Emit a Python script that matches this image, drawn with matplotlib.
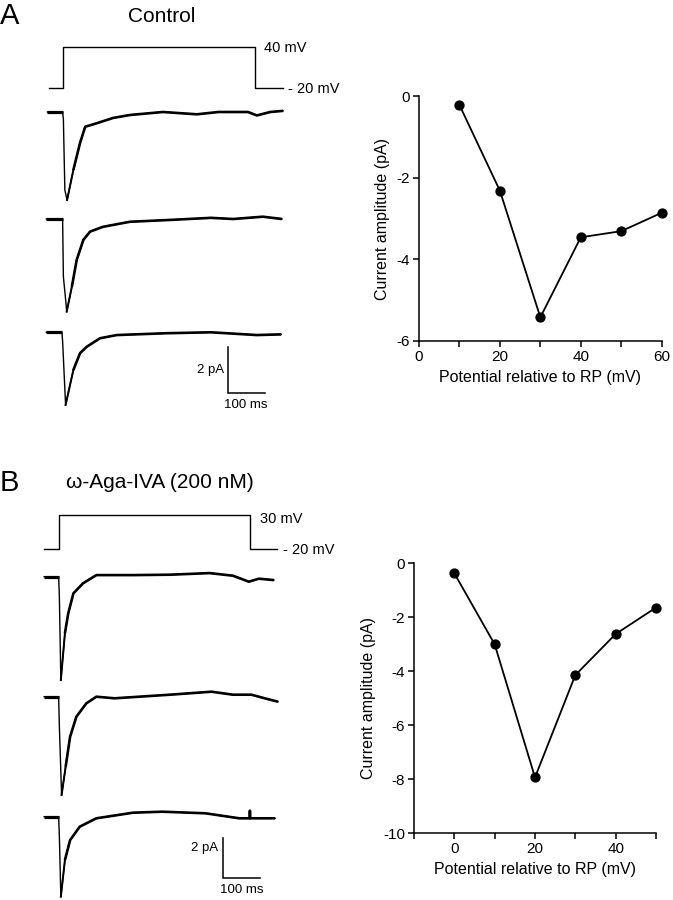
import matplotlib
matplotlib.use('Agg')
import matplotlib.pyplot as plt

plt.rcParams['font.family'] = ['Liberation Sans', 'DejaVu Sans']
plt.rcParams['axes.unicode_minus'] = False

# I-V data (mV relative to RP, pA)
iv_a_mv = [10, 20, 30, 40, 50, 60]
iv_a_pa = [-0.22, -2.32, -5.42, -3.46, -3.31, -2.86]
iv_b_mv = [0, 10, 20, 30, 40, 50]
iv_b_pa = [-0.37, -3.0, -7.93, -4.14, -2.62, -1.64]

# voltage command (ms, mV)
step_a_t = [-38, 0, 0, 520, 520, 595]
step_a_mv = [-20, -20, 40, 40, -20, -20]
step_b_t = [-40, 0, 0, 517, 517, 590]
step_b_mv = [-20, -20, 30, 30, -20, -20]

# current traces, control (ms, pA from baseline)
a1_t = [-42, -1, 1, 5, 11, 28, 46, 60, 91, 135, 181, 270, 362, 420, 500, 524, 560, 595]
a1_i = [0, 0, -0.3, -3.39, -3.83, -2.52, -1.35, -0.64, -0.49, -0.26, -0.13, 0.0, -0.1, 0.0, 0.0, -0.15, 0.0, 0.05]
a2_t = [-45, -1, 1, 8, 10, 24, 37, 55, 73, 108, 181, 290, 400, 460, 540, 592]
a2_i = [0, 0, -2.5, -3.65, -4.03, -2.94, -1.78, -0.91, -0.55, -0.34, -0.12, -0.04, 0.05, 0.0, 0.1, 0.0]
a3_t = [-45, -3, -1, 7, 28, 46, 64, 100, 145, 280, 400, 524, 590]
a3_i = [0, 0, -0.4, -3.16, -1.64, -0.91, -0.63, -0.26, -0.12, -0.04, 0.0, -0.12, -0.09]

# current traces, w-Aga-IVA
b1_t = [-40, -1, 1, 5, 16, 25, 39, 65, 101, 200, 300, 407, 470, 513, 540, 581]
b1_i = [0, 0, -1.0, -5.17, -2.83, -1.83, -0.83, -0.33, 0.08, 0.08, 0.1, 0.18, 0.05, -0.25, -0.1, -0.17]
b2_t = [-40, -1, 1, 7, 18, 30, 47, 74, 101, 150, 300, 412, 470, 520, 560, 592]
b2_i = [0, 0, -1.5, -4.92, -3.5, -2.0, -1.0, -0.33, 0.0, -0.08, 0.1, 0.25, 0.1, 0.1, -0.1, -0.25]
b3_t = [-40, -1, 1, 5, 16, 30, 56, 101, 200, 279, 396, 487, 515, 516, 517, 584]
b3_i = [0, 0, -1.0, -4.0, -2.17, -1.17, -0.5, -0.08, 0.2, 0.25, 0.17, -0.08, -0.08, 0.3, -0.08, -0.08]

W, H = 673, 900
fig = plt.figure(figsize=(W / 100, H / 100), dpi=100)


def px_axes(x0, y0, x1, y1):
    # axes placed by pixel box, y measured from the top
    return fig.add_axes([x0 / W, 1 - y1 / H, (x1 - x0) / W, (y1 - y0) / H])


def ftext(x, y, s, **kw):
    fig.text(x / W, 1 - y / H, s, **kw)


SX = 0.37  # px per ms


def trace_panel(onset, bases, sy, traces, step_t, step_mv, bar_xy, top, bottom):
    x0, x1 = 30, 300
    # voltage command
    vax = px_axes(x0, top, x1, top + 70)
    vax.axis('off')
    mv_px = 0.683
    vax.set_xlim((x0 - onset) / SX, (x1 - onset) / SX)
    vax.set_ylim(-20 - 8 / mv_px, -20 + 62 / mv_px)
    vax.plot(step_t, step_mv, color='black', lw=1.0)

    # currents: thin for the fast fall, heavier where the noise band is
    ax = px_axes(x0, top + 70, x1, bottom)
    ax.axis('off')
    ax.set_xlim((x0 - onset) / SX, (x1 - onset) / SX)
    ax.set_ylim((bases[0] - bottom) / sy, (bases[0] - top - 70) / sy)
    for (t, i), b in zip(traces, bases):
        off = (bases[0] - b) / sy
        y = [v + off for v in i]
        pk = i.index(min(i))
        ax.plot(t, y, color='black', lw=1.0)
        ax.plot(t[:2], y[:2], color='black', lw=2.3, solid_capstyle='butt')
        ax.plot(t[pk + 1:], y[pk + 1:], color='black', lw=1.9, solid_capstyle='butt')
        ax.plot(t[pk:pk + 2], y[pk:pk + 2], color='black', lw=1.4)

    bx, by = bar_xy
    ct = (bx - onset) / SX
    cy = (bases[0] - by) / sy
    ax.plot([ct, ct, ct + 100], [cy + 2, cy, cy], color='black', lw=1.1,
            solid_joinstyle='miter')


def iv_panel(x0, y0, x1, y1, mv, pa, xlim, ylim, xticks, xlabels, yticks):
    ax = px_axes(x0, y0, x1, y1)
    ax.plot(mv, pa, color='black', lw=1.3, marker='o', ms=6.4, clip_on=False, zorder=3)
    ax.set_xlim(*xlim)
    ax.set_ylim(*ylim)
    for s in ('top', 'right'):
        ax.spines[s].set_visible(False)
    for s in ('left', 'bottom'):
        ax.spines[s].set_linewidth(1.1)
    ax.set_xticks(xticks)
    ax.set_xticklabels(xlabels)
    ax.set_yticks(yticks)
    ax.set_yticklabels([str(v) for v in yticks])
    ax.tick_params(direction='out', length=4.5, width=1.1, labelsize=11, pad=2)
    ax.set_xlabel('Potential relative to RP (mV)', fontsize=11.5, labelpad=4)
    ax.set_ylabel('Current amplitude (pA)', fontsize=11.5, labelpad=5)


# ---- panel A ----
ftext(0, 16, 'A', fontsize=21, va='center', ha='left')
ftext(162, 16, 'Control', fontsize=15, va='center', ha='center')
trace_panel(63, [112, 219, 332.3], 23.0,
            [(a1_t, a1_i), (a2_t, a2_i), (a3_t, a3_i)],
            step_a_t, step_a_mv, (228, 393), 26, 420)
ftext(264, 48, '40 mV', fontsize=10.5, va='center')
ftext(288, 89, '- 20 mV', fontsize=10.5, va='center')
ftext(224, 370, '2 pA', fontsize=9.5, va='center', ha='right')
ftext(246, 405, '100 ms', fontsize=9.5, va='center', ha='center')

iv_panel(419, 96, 661.7, 341, iv_a_mv, iv_a_pa, (0, 60), (-6, 0),
         [0, 10, 20, 30, 40, 50, 60], ['0', '', '20', '', '40', '', '60'],
         [0, -2, -4, -6])

# ---- panel B ----
ftext(0, 483, 'B', fontsize=21, va='center', ha='left')
ftext(160, 483, 'ω-Aga-IVA (200 nM)', fontsize=15, va='center', ha='center')
trace_panel(59, [576.7, 696.7, 816.7], 20.0,
            [(b1_t, b1_i), (b2_t, b2_i), (b3_t, b3_i)],
            step_b_t, step_b_mv, (222.7, 878.3), 487, 900)
ftext(260, 519, '30 mV', fontsize=10.5, va='center')
ftext(283, 550, '- 20 mV', fontsize=10.5, va='center')
ftext(218, 848, '2 pA', fontsize=9.5, va='center', ha='right')
ftext(242, 890, '100 ms', fontsize=9.5, va='center', ha='center')

iv_panel(414, 563.3, 656, 833.3, iv_b_mv, iv_b_pa, (-10, 50), (-10, 0),
         [-10, 0, 10, 20, 30, 40, 50], ['', '0', '', '20', '', '40', ''],
         [0, -2, -4, -6, -8, -10])

fig.savefig('out.png', dpi=100, facecolor='white')
